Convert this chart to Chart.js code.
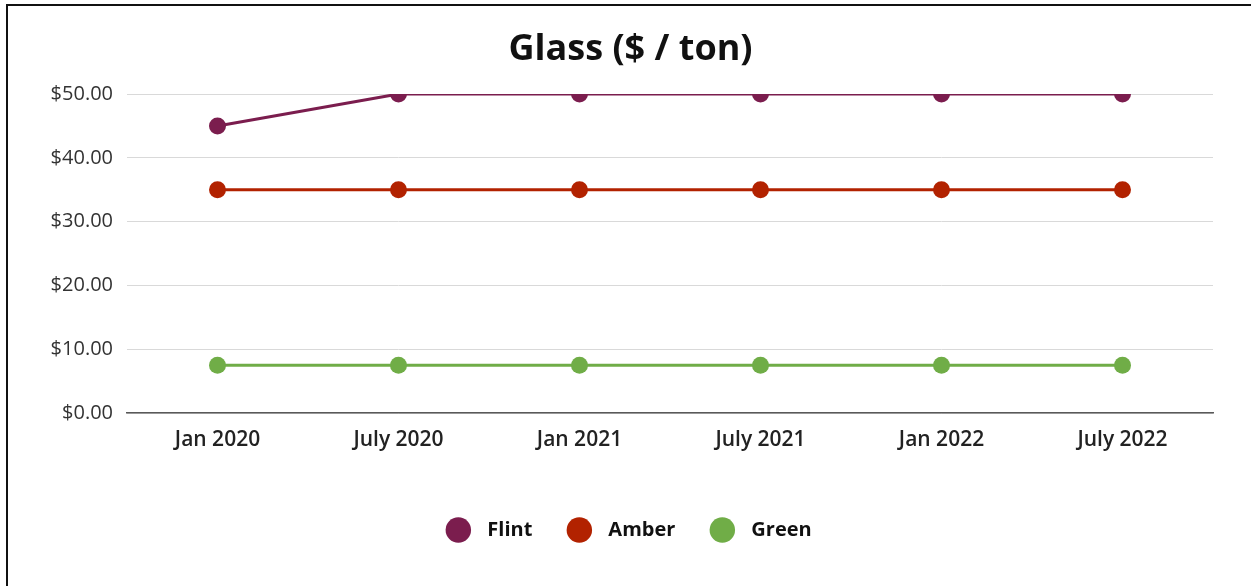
<!DOCTYPE html>
<html>
<head>
<meta charset="utf-8">
<script src="https://cdn.jsdelivr.net/npm/chart.js@4.4.1/dist/chart.umd.min.js"></script>
<style>
  html, body { margin: 0; padding: 0; background: #fff; }
  #wrap { position: relative; width: 1251px; height: 586px; overflow: hidden; background: #fff; }
  #c { position: absolute; left: 0; top: 0; }
  .bt { position: absolute; left: 6px; top: 4px; width: 1245px; height: 2px; background: #111; }
  .bl { position: absolute; left: 6px; top: 4px; width: 2px; height: 582px; background: #111; }
</style>
</head>
<body>
<div id="wrap">
  <canvas id="c" width="1251" height="586"></canvas>
  <div class="bt"></div>
  <div class="bl"></div>
</div>
<script>
const categories = ["Jan 2020", "July 2020", "Jan 2021", "July 2021", "Jan 2022", "July 2022"];
const flint = [45, 50, 50, 50, 50, 50];
const amber = [35, 35, 35, 35, 35, 35];
const green = [7.5, 7.5, 7.5, 7.5, 7.5, 7.5];
const yTicks = [0, 10, 20, 30, 40, 50];
const seriesNames = ["Flint", "Amber", "Green"];
const seriesColors = ["#7B1D4E", "#B22200", "#70AD47"];
const titleText = "Glass ($ / ton)";

const FONT = "'Open Sans', Lato, sans-serif";

function ds(label, data, color) {
  return {
    label, data,
    borderColor: color, backgroundColor: color,
    pointBackgroundColor: color, pointBorderColor: color,
    borderWidth: 3, pointRadius: 8.5, pointHoverRadius: 8.5, pointBorderWidth: 0,
    pointStyle: 'circle', tension: 0, clip: 0
  };
}

const boxShift = {
  id: 'boxShift',
  afterLayout(chart) {
    const l = chart.legend;
    if (l) { l.left += 24; l.right += 24; }
    const t = chart.titleBlock;
    if (t) { t.left += 24; t.right += 24; }
  }
};

new Chart(document.getElementById('c'), {
  type: 'line',
  data: {
    labels: categories,
    datasets: [
      ds(seriesNames[0], flint, seriesColors[0]),
      ds(seriesNames[1], amber, seriesColors[1]),
      ds(seriesNames[2], green, seriesColors[2])
    ]
  },
  plugins: [boxShift],
  options: {
    responsive: false,
    animation: false,
    devicePixelRatio: 1,
    layout: { padding: { top: 0, left: 0, right: 38, bottom: 36 } },
    plugins: {
      tooltip: { enabled: false },
      title: {
        display: true, text: titleText, color: '#111',
        font: { family: FONT, size: 36, weight: 'bold', lineHeight: 1.2 },
        padding: { top: 28.4, bottom: 22.4 }
      },
      legend: {
        position: 'bottom',
        labels: {
          usePointStyle: true, pointStyle: 'circle',
          boxWidth: 18, boxHeight: 18,
          color: '#111', padding: 38,
          font: { family: FONT, size: 20, weight: 'bold', lineHeight: 1 },
          generateLabels(chart) {
            const items = Chart.defaults.plugins.legend.labels.generateLabels(chart);
            items.forEach(it => { it.text = '\u2002' + it.text; it.lineWidth = 0; });
            return items;
          }
        }
      }
    },
    scales: {
      x: {
        offset: true,
        grid: { display: false, drawTicks: false },
        border: { display: true, color: '#595959', width: 1.5 },
        ticks: { color: '#222', padding: 14, font: { family: FONT, size: 21, weight: '600' } },
        afterFit(s) { s.height = 69; }
      },
      y: {
        min: 0, max: 50,
        afterBuildTicks(s) { s.ticks = yTicks.map(v => ({ value: v })); },
        grid: { color: '#d9d9d9', lineWidth: 1, drawTicks: false },
        border: { display: false },
        ticks: {
          color: '#333', padding: 14,
          font: { family: FONT, size: 20 },
          callback: v => '$' + Number(v).toFixed(2)
        },
        afterFit(s) { s.width = 127; }
      }
    }
  }
});
</script>
</body>
</html>
